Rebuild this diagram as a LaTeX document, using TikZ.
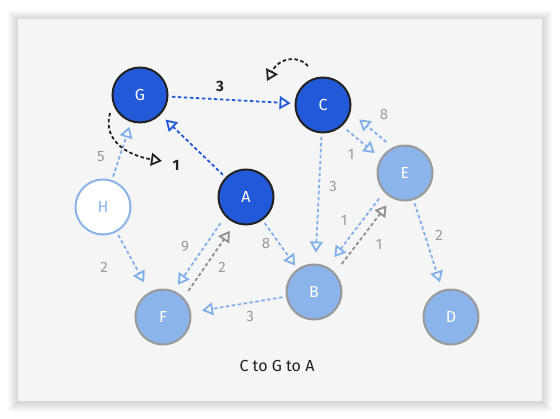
\documentclass[tikz,border=0pt]{standalone}
\usepackage{fontspec}
\setmainfont{Fira Sans}
\usetikzlibrary{arrows.meta,calc}
\definecolor{dblue}{HTML}{2159D9}
\definecolor{lblue}{HTML}{8AB4EA}
\definecolor{ledge}{HTML}{80B0EA}
\definecolor{gborder}{HTML}{999999}
\definecolor{gedge}{HTML}{8F8F8F}
\definecolor{glabel}{HTML}{9A9A9A}
\definecolor{cardbg}{HTML}{F5F5F5}
\definecolor{ink}{HTML}{222222}
\begin{document}
\begin{tikzpicture}[x=1pt,y=-1pt,
  vtx/.style={circle,minimum size=55pt,inner sep=0pt,line width=2pt,font=\fontsize{16}{16}\selectfont},
  dark/.style={vtx,fill=dblue,draw=ink,text=white},
  light/.style={vtx,fill=lblue,draw=gborder,text=white},
  pale/.style={vtx,fill=white,draw=lblue,text=lblue},
  lnk/.style={line width=1.8pt,dash pattern=on 3.5pt off 2.5pt,shorten <=3.5pt,
     -{Triangle[open,length=11pt,width=13pt]}},
  lbl/.style={text=glabel,font=\fontsize{15}{15}\selectfont,inner sep=0pt},
  blbl/.style={text=ink,font=\fontsize{15}{15}\selectfont\bfseries,inner sep=0pt}
]
\useasboundingbox (0,0) rectangle (560,419);
\fill[white] (0,0) rectangle (560,419);
% card shadow
\foreach \i in {1,...,10}
  \fill[black,opacity=0.014] ({18-\i},{19-\i+1}) rectangle ({542+\i},{401+\i+1});
\fill[cardbg] (18,19) rectangle (542,401);

% nodes
\node[dark]  (G) at (140,95)  {G};
\node[dark]  (C) at (323,105) {C};
\node[dark]  (A) at (246,197) {A};
\node[pale]  (H) at (103,207) {H};
\node[light] (E) at (405,173) {E};
\node[light] (B) at (314,292) {B};
\node[light] (F) at (163,317) {F};
\node[light] (D) at (451,317) {D};

% edges
\draw[lnk,dblue,shorten >=4pt] (G) -- (C);
\draw[lnk,dblue,shorten >=7pt] (A) -- (G);
\draw[lnk,ledge,shorten >=5pt] (H) -- (G);
\draw[lnk,ledge,shorten >=11pt] (H) -- (F);
\draw[lnk,ledge,shorten >=4pt] (A) -- (B);
\draw[lnk,ledge,shorten >=11pt] (C) -- (B);
\draw[lnk,ledge,shorten >=8pt] (E) -- (D);
\draw[lnk,ledge,shorten >=11pt] (B) -- (F);
% parallel pairs
\draw[lnk,ledge,shorten <=36pt,shorten >=35pt] ($(A)!6pt!-90:(F)$) -- ($(F)!6pt!90:(A)$);
\draw[lnk,gedge,shorten <=36pt,shorten >=37pt] ($(F)!6pt!-90:(A)$) -- ($(A)!6pt!90:(F)$);
\draw[lnk,ledge,shorten <=36pt,shorten >=40pt] ($(E)!5pt!-90:(B)$) -- ($(B)!5pt!90:(E)$);
\draw[lnk,gedge,shorten <=39pt,shorten >=37pt] ($(B)!5pt!-90:(E)$) -- ($(E)!5pt!90:(B)$);
\draw[lnk,ledge,shorten <=34pt,shorten >=36pt] ($(C)!4pt!-90:(E)$) -- ($(E)!4pt!90:(C)$);
\draw[lnk,ledge,shorten <=34pt,shorten >=37pt] ($(E)!12pt!-90:(C)$) -- ($(C)!12pt!90:(E)$);
% self loops
\coordinate (gs) at (110,113);
\coordinate (ge) at (162,161);
\draw[lnk,ink,shorten <=0pt] (gs) .. controls (102,142) and (130,156) .. (ge);
\coordinate (cs) at (308,66);
\coordinate (ce) at (267,81);
\draw[lnk,ink,shorten <=0pt] (cs) .. controls (300,56) and (280,56) .. (ce);

% labels
\node[blbl] at (220,86) {3};
\node[blbl] at (176,165) {1};
\node[lbl] at (101,157) {5};
\node[lbl] at (333,187) {3};
\node[lbl] at (351,154) {1};
\node[lbl] at (384,115) {8};
\node[lbl] at (344,220) {1};
\node[lbl] at (379,244) {1};
\node[lbl] at (439,235) {2};
\node[lbl] at (185,247) {9};
\node[lbl] at (222,267) {2};
\node[lbl] at (266,244) {8};
\node[lbl] at (104,267) {2};
\node[lbl] at (250,316) {3};
\node[text=ink,font=\fontsize{16}{16}\selectfont] (T) at (277,366) {C to G to A};
\end{tikzpicture}
\end{document}
